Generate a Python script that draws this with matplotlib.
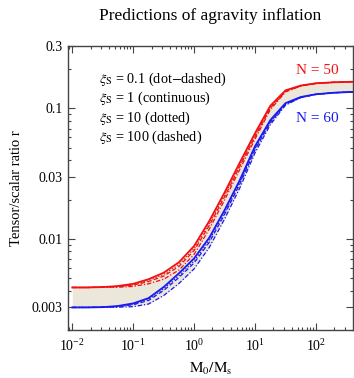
import numpy as np
import matplotlib
matplotlib.use("Agg")
import matplotlib.pyplot as plt
from matplotlib.ticker import LogLocator, FixedLocator, FixedFormatter, NullFormatter

plt.rcParams['font.family'] = ['Liberation Serif', 'DejaVu Serif']
plt.rcParams['mathtext.fontset'] = 'stix'

# ---- data ----
M_ratio = [0.01, 0.0178, 0.0316, 0.0562, 0.1, 0.178, 0.316, 0.562, 1.0, 1.78,
           3.16, 5.62, 10, 17.8, 31.6, 56.2, 100, 200, 398]

# log10 of r, N = 50 (red)
log_r_N50_cont    = [-2.373, -2.373, -2.370, -2.362, -2.345, -2.31, -2.26, -2.18, -2.055, -1.862,
                     -1.645, -1.415, -1.19, -0.98, -0.862, -0.825, -0.808, -0.80, -0.796]
log_r_N50_dotted  = [-2.373, -2.373, -2.370, -2.365, -2.351, -2.32, -2.274, -2.198, -2.075, -1.882,
                     -1.665, -1.435, -1.208, -0.992, -0.868, -0.827, -0.808, -0.80, -0.796]
log_r_N50_dashed  = [-2.373, -2.373, -2.370, -2.367, -2.355, -2.328, -2.286, -2.212, -2.09, -1.897,
                     -1.678, -1.445, -1.217, -0.998, -0.870, -0.828, -0.808, -0.80, -0.796]
log_r_N50_dotdash = [-2.373, -2.373, -2.370, -2.371, -2.365, -2.345, -2.31, -2.24, -2.12, -1.924,
                     -1.703, -1.467, -1.235, -1.01, -0.874, -0.829, -0.808, -0.80, -0.796]

# log10 of r, N = 60 (blue)
log_r_N60_cont    = [-2.526, -2.526, -2.524, -2.515, -2.495, -2.455, -2.37, -2.265, -2.15, -1.99,
                     -1.78, -1.55, -1.29, -1.09, -0.96, -0.913, -0.892, -0.88, -0.874]
log_r_N60_dotted  = [-2.526, -2.526, -2.524, -2.518, -2.501, -2.465, -2.384, -2.283, -2.17, -2.01,
                     -1.80, -1.57, -1.308, -1.102, -0.966, -0.915, -0.892, -0.88, -0.874]
log_r_N60_dashed  = [-2.526, -2.526, -2.524, -2.52, -2.505, -2.473, -2.396, -2.297, -2.185, -2.025,
                     -1.813, -1.58, -1.317, -1.108, -0.968, -0.916, -0.892, -0.88, -0.874]
log_r_N60_dotdash = [-2.526, -2.526, -2.524, -2.524, -2.52, -2.50, -2.435, -2.343, -2.23, -2.065,
                     -1.848, -1.61, -1.34, -1.125, -0.975, -0.918, -0.892, -0.88, -0.874]

y_ticks = [0.003, 0.01, 0.03, 0.1, 0.3]
y_tick_labels = ["0.003", "0.01", "0.03", "0.1", "0.3"]
legend_lines = [r"$\xi_{\rm S}$ = 0.1 (dot$-$dashed)",
                r"$\xi_{\rm S}$ = 1 (continuous)",
                r"$\xi_{\rm S}$ = 10 (dotted)",
                r"$\xi_{\rm S}$ = 100 (dashed)"]

RED = '#f21010'
BLUE = '#1a1aee'
FILL = '#ebe7db'
AXC = '#444444'

fig = plt.figure(figsize=(3.54, 3.78), dpi=100)
ax = fig.add_axes([0.192, 0.127, 0.804, 0.751])
ax.set_xscale('log')
ax.set_yscale('log')

M = np.array(M_ratio)
def r(v):
    return 10 ** np.array(v)

ax.fill_between(M, r(log_r_N60_dotdash), r(log_r_N50_cont), color=FILL, lw=0, zorder=1)

styles = {'dotted': (0, (1, 1.5)), 'dashed': (0, (3.5, 2)), 'dotdash': (0, (3.5, 1.5, 1, 1.5))}
for color, series_list in [(RED, [('dotdash', log_r_N50_dotdash), ('dashed', log_r_N50_dashed),
                                  ('dotted', log_r_N50_dotted)]),
                           (BLUE, [('dotdash', log_r_N60_dotdash), ('dashed', log_r_N60_dashed),
                                   ('dotted', log_r_N60_dotted)])]:
    for key, series in series_list:
        ax.plot(M, r(series), color=color, lw=0.9, ls=styles[key], zorder=3)
ax.plot(M, r(log_r_N50_cont), color=RED, lw=1.3, zorder=4)
ax.plot(M, r(log_r_N60_cont), color=BLUE, lw=1.3, zorder=4)

ax.set_xlim(10 ** -2.07, 10 ** 2.6)
ax.set_ylim(0.002, 0.3)

ax.xaxis.set_major_locator(LogLocator(base=10, numticks=20))
ax.xaxis.set_minor_locator(LogLocator(base=10, subs=np.arange(2, 10), numticks=20))
ax.xaxis.set_minor_formatter(NullFormatter())
ax.yaxis.set_major_locator(FixedLocator(y_ticks))
ax.yaxis.set_major_formatter(FixedFormatter(y_tick_labels))
ax.yaxis.set_minor_locator(LogLocator(base=10, subs=np.arange(1, 10), numticks=20))
ax.yaxis.set_minor_formatter(NullFormatter())

for s in ax.spines.values():
    s.set_color(AXC)
    s.set_linewidth(1.0)
ax.tick_params(which='both', direction='in', top=True, right=True, color=AXC, width=0.8)
ax.tick_params(which='major', length=5, labelsize=10, pad=4)
ax.tick_params(axis='x', which='major', pad=6)
ax.tick_params(which='minor', length=2.5)

ax.set_title("Predictions of agravity inflation", fontsize=12.5, pad=19)
ax.set_ylabel("Tensor/scalar ratio r", fontsize=10.5, labelpad=6)
ax.set_xlabel(r"$\mathrm{M_0/M_s}$", fontsize=11, labelpad=5)

for i, t in enumerate(legend_lines):
    ax.text(0.11, 0.884 - i * 0.0687, t, transform=ax.transAxes, fontsize=10.3, va='center', ha='left')

ax.text(0.877, 0.915, "N = 50", color=RED, transform=ax.transAxes, fontsize=11, ha='center', va='center')
ax.text(0.877, 0.746, "N = 60", color=BLUE, transform=ax.transAxes, fontsize=11, ha='center', va='center')

fig.savefig("out.png", dpi=100)
